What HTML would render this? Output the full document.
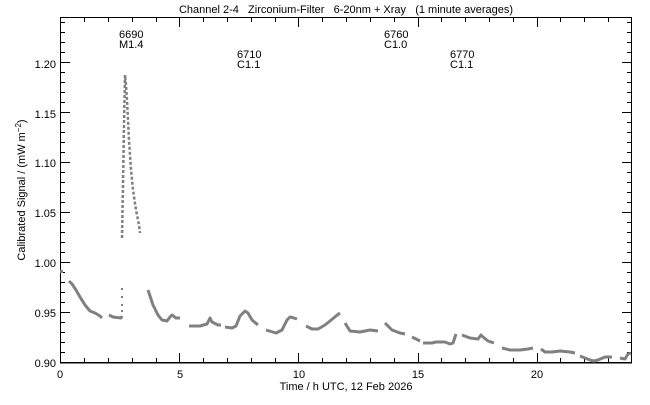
<!DOCTYPE html>
<html><head><meta charset="utf-8"><style>
body{margin:0;background:#fff}
svg text{font-family:"Liberation Sans",sans-serif;font-size:11px;fill:#000}
</style></head><body>
<svg width="650" height="400" xmlns="http://www.w3.org/2000/svg">
<rect width="650" height="400" fill="#fff"/>
<text x="346" y="13" text-anchor="middle" xml:space="preserve">Channel 2-4   Zirconium-Filter   6-20nm + Xray   (1 minute averages)</text>
<rect x="60" y="17" width="572" height="1" fill="#000"/>
<rect x="60" y="362" width="572" height="1.5" fill="#000"/>
<rect x="60" y="17" width="1" height="346" fill="#000"/>
<rect x="631" y="17" width="1" height="346" fill="#000"/>
<path stroke="#000" stroke-width="1" fill="none" d="
M60.5 363v-10M84.5 363v-5M108.5 363v-5M132.5 363v-5M156.5 363v-5M179.5 363v-10M203.5 363v-5M227.5 363v-5M251.5 363v-5M275.5 363v-5M298.5 363v-10M322.5 363v-5M346.5 363v-5M370.5 363v-5M394.5 363v-5M418.5 363v-10M441.5 363v-5M465.5 363v-5M489.5 363v-5M513.5 363v-5M537.5 363v-10M560.5 363v-5M584.5 363v-5M608.5 363v-5
M60.5 17v10M84.5 17v5M108.5 17v5M132.5 17v5M156.5 17v5M179.5 17v10M203.5 17v5M227.5 17v5M251.5 17v5M275.5 17v5M298.5 17v10M322.5 17v5M346.5 17v5M370.5 17v5M394.5 17v5M418.5 17v10M441.5 17v5M465.5 17v5M489.5 17v5M513.5 17v5M537.5 17v10M560.5 17v5M584.5 17v5M608.5 17v5
M60 352.5h5M60 342.5h5M60 332.5h5M60 322.5h5M60 312.5h10M60 302.5h5M60 292.5h5M60 282.5h5M60 272.5h5M60 262.5h10M60 252.5h5M60 242.5h5M60 232.5h5M60 222.5h5M60 212.5h10M60 202.5h5M60 192.5h5M60 182.5h5M60 172.5h5M60 162.5h10M60 152.5h5M60 142.5h5M60 132.5h5M60 122.5h5M60 112.5h10M60 102.5h5M60 92.5h5M60 82.5h5M60 72.5h5M60 62.5h10M60 52.5h5M60 42.5h5M60 32.5h5M60 22.5h5
M632 352.5h-5M632 342.5h-5M632 332.5h-5M632 322.5h-5M632 312.5h-10M632 302.5h-5M632 292.5h-5M632 282.5h-5M632 272.5h-5M632 262.5h-10M632 252.5h-5M632 242.5h-5M632 232.5h-5M632 222.5h-5M632 212.5h-10M632 202.5h-5M632 192.5h-5M632 182.5h-5M632 172.5h-5M632 162.5h-10M632 152.5h-5M632 142.5h-5M632 132.5h-5M632 122.5h-5M632 112.5h-10M632 102.5h-5M632 92.5h-5M632 82.5h-5M632 72.5h-5M632 62.5h-10M632 52.5h-5M632 42.5h-5M632 32.5h-5M632 22.5h-5"/>
<g font-size="10">
<text x="56" y="367" text-anchor="end">0.90</text>
<text x="56" y="317" text-anchor="end">0.95</text>
<text x="56" y="267" text-anchor="end">1.00</text>
<text x="56" y="217" text-anchor="end">1.05</text>
<text x="56" y="167" text-anchor="end">1.10</text>
<text x="56" y="118" text-anchor="end">1.15</text>
<text x="56" y="68" text-anchor="end">1.20</text>
<text x="60" y="378" text-anchor="middle">0</text>
<text x="180" y="378" text-anchor="middle">5</text>
<text x="299" y="378" text-anchor="middle">10</text>
<text x="418" y="378" text-anchor="middle">15</text>
<text x="537" y="378" text-anchor="middle">20</text>
</g>
<text x="346" y="390" text-anchor="middle">Time / h UTC, 12 Feb 2026</text>
<text transform="translate(25,190) rotate(-90)" text-anchor="middle">Calibrated Signal / (mW m<tspan dy="-4" font-size="8">−2</tspan><tspan dy="4">)</tspan></text>
<text x="119" y="38">6690</text><text x="119" y="48">M1.4</text>
<text x="237" y="58">6710</text><text x="237" y="68">C1.1</text>
<text x="384" y="38">6760</text><text x="384" y="48">C1.0</text>
<text x="450" y="58">6770</text><text x="450" y="68">C1.1</text>
<g fill="none" stroke="#808080" stroke-width="3" stroke-linejoin="round">
<polyline points="69,281 72,284 76,290 80,297 85,305 90,311 95,313 100,316 102,318"/>
<polyline points="109,315 113,317 121,318 122,316"/>
<polyline stroke-dasharray="3 2" stroke-width="2.5" points="122,238 123,185 124,124 125,75 126,85 127,100 129,140 131,170 133,190 136,210 139,225 140,233"/>
<polyline points="148,290 153,305 158,315 162,320 167,321 170,317 172,315 176,318 180,318"/>
<polyline points="189,326 200,326 207,324 210,318 212,322 218,325 221,325"/>
<polyline points="225,327 232,328 236,326 240,316 245,311 248,313 252,320 258,325"/>
<polyline points="266,330 276,333 282,330 287,320 290,317 294,318 297,319"/>
<polyline points="306,326 312,329 318,329 325,325 330,321 336,316 340,313"/>
<polyline points="345,323 350,331 360,332 370,330 378,331"/>
<polyline points="385,323 392,330 400,333 405,334"/>
<polyline points="412,337 420,341"/>
<polyline points="423,343 432,343 436,342 445,342 450,344 453,343 456,334"/>
<polyline points="462,335 470,338 478,339 481,335 483,337 488,341 494,343"/>
<polyline points="502,348 510,350 520,350 528,349 533,348"/>
<polyline points="541,349 545,352 552,352 560,351 570,352 575,353"/>
<polyline points="580,356 590,360 594,361 598,360 605,357 612,357"/>
<polyline points="620,358 625,359 628,354 631,353"/>
</g>
<g fill="#808080">
<rect x="60" y="270" width="3" height="3"/>
<rect x="121" y="288" width="2" height="2"/><rect x="121" y="296" width="2" height="2"/><rect x="121" y="304" width="2" height="2"/><rect x="121" y="310" width="2" height="2"/>
</g>
</svg>
</body></html>
